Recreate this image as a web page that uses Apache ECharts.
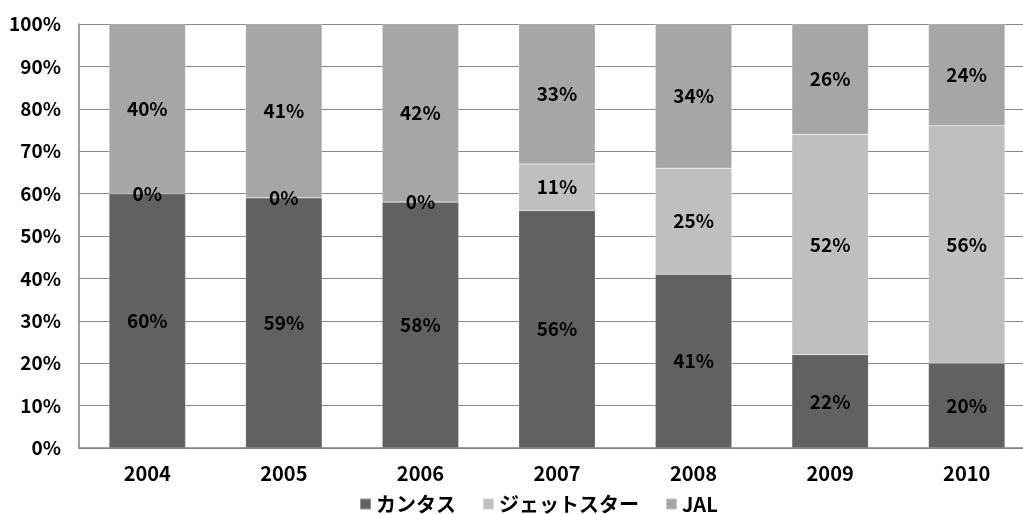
<!DOCTYPE html>
<html>
<head>
<meta charset="utf-8">
<script src="https://cdn.jsdelivr.net/npm/echarts@6/dist/echarts.min.js"></script>
<style>
html,body{margin:0;padding:0;background:#fff;overflow:hidden;}
#chart{width:1023px;height:514px;}
</style>
</head>
<body>
<div id="chart"></div>
<script>
// Airline market share by year (%)
const years = ['2004', '2005', '2006', '2007', '2008', '2009', '2010'];
const qantas = [60, 59, 58, 56, 41, 22, 20];
const jetstar = [0, 0, 0, 11, 25, 52, 56];
const jal = [40, 41, 42, 33, 34, 26, 24];
const yTicks = [0, 10, 20, 30, 40, 50, 60, 70, 80, 90, 100];

const font = '"Noto Sans CJK JP", "Liberation Sans", sans-serif';

function series(name, data, color) {
  return {
    name: name,
    type: 'bar',
    stack: 'share',
    data: data,
    barWidth: '56%',
    itemStyle: { color: color, borderColor: 'rgba(255,255,255,0.35)', borderWidth: 0.5 },
    label: {
      show: true,
      position: 'inside',
      formatter: '{c}%',
      color: '#000',
      fontFamily: font,
      fontWeight: 'bold',
      fontSize: 19
    }
  };
}

const chart = echarts.init(document.getElementById('chart'));
chart.setOption({
  animation: false,
  grid: { left: 79, top: 24, width: 956, height: 424, containLabel: false, outerBoundsMode: 'none' },
  legend: {
    top: 489,
    left: 354,
    itemWidth: 11,
    itemHeight: 11,
    itemGap: 26,
    icon: 'rect',
    textStyle: { fontFamily: font, fontWeight: 'bold', fontSize: 20, color: '#000' },
    data: ['カンタス', 'ジェットスター', 'JAL']
  },
  xAxis: {
    type: 'category',
    data: years,
    axisLine: { lineStyle: { color: '#7f7f7f', width: 1.5 } },
    axisTick: { show: false },
    axisLabel: { fontFamily: font, fontWeight: 'bold', fontSize: 20, color: '#000', margin: 15 }
  },
  yAxis: {
    type: 'value',
    min: yTicks[0],
    max: yTicks[yTicks.length - 1],
    interval: 10,
    axisLine: { show: true, lineStyle: { color: '#7f7f7f', width: 1.5 } },
    axisTick: { show: false },
    splitLine: { lineStyle: { color: '#8a8a8a', width: 1.2 } },
    axisLabel: { formatter: '{value}%', fontFamily: font, fontWeight: 'bold', fontSize: 19, color: '#000', margin: 18 }
  },
  series: [
    series('カンタス', qantas, '#616161'),
    series('ジェットスター', jetstar, '#bfbfbf'),
    series('JAL', jal, '#a6a6a6')
  ]
});
</script>
</body>
</html>
